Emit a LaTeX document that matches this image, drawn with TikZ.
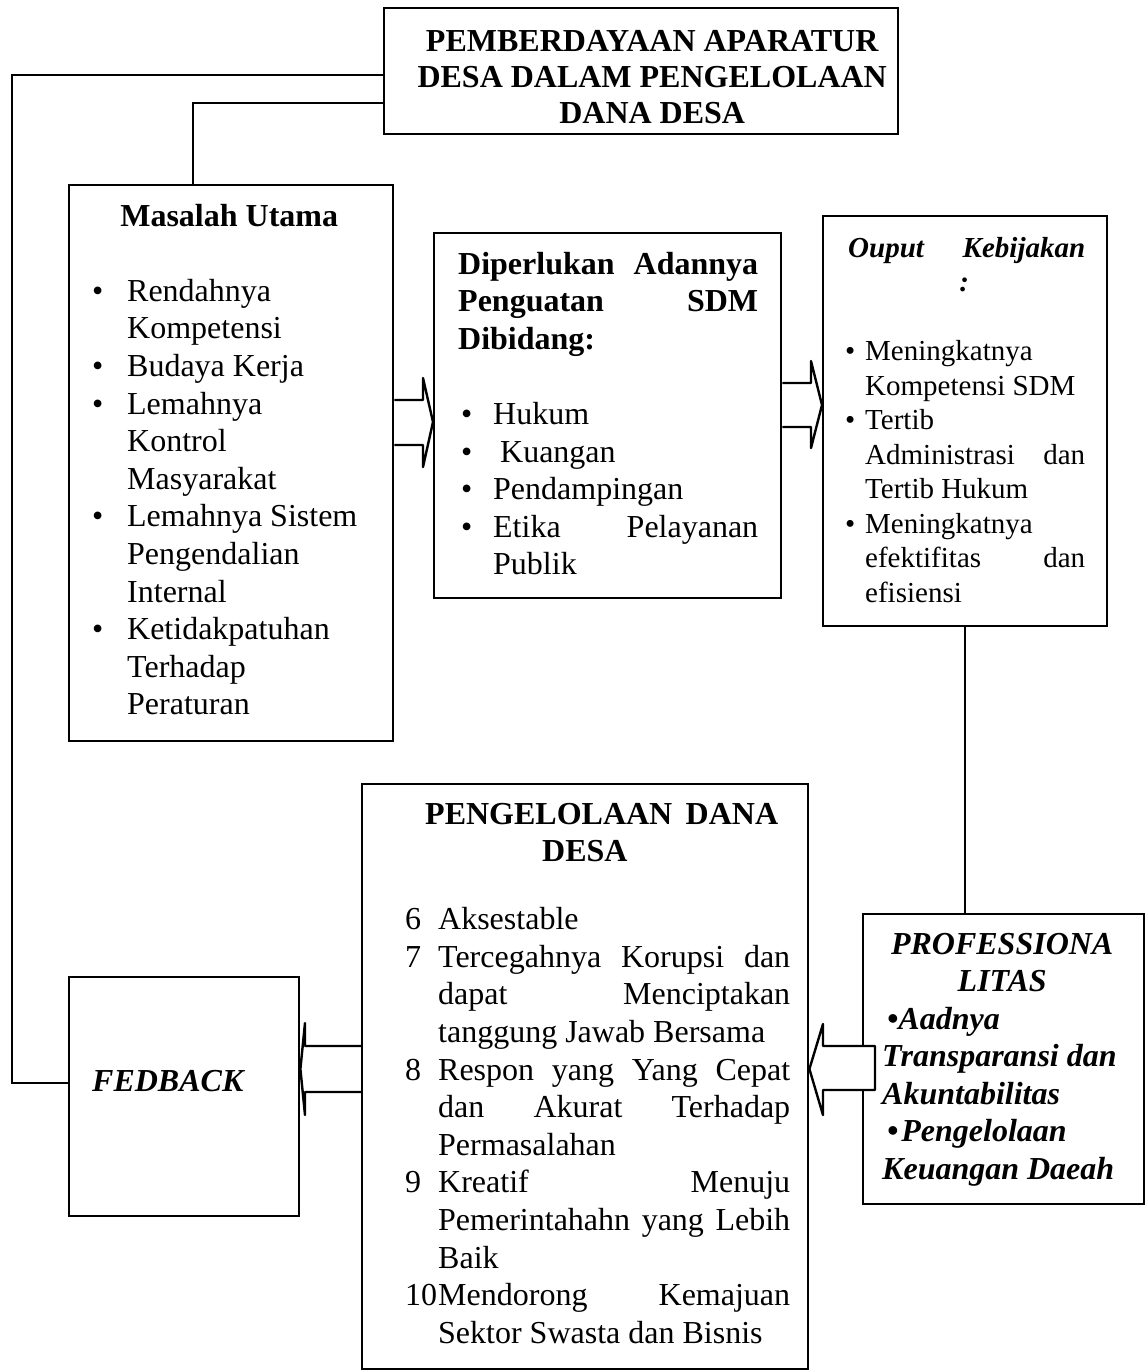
\documentclass[tikz,border=0pt]{standalone}
\usepackage{fontspec}
\setmainfont{Liberation Serif}
\usetikzlibrary{calc}

\newcommand{\titik}[1]{\makebox[#1][l]{\textbullet}}
\newcommand{\tengah}[1]{\hspace*{\fill}#1\hspace*{\fill}\null}
\newcommand{\kolom}[2]{\parbox[t]{#1}{\raggedright #2}}

\begin{document}
\begin{tikzpicture}[x=1pt, y=-1pt,
	kotak/.style={draw, line width=2.4pt, inner sep=0pt, anchor=north west},
	teks/.style={inner sep=0pt, anchor=base west, font=\fontsize{32}{37.6}\selectfont},
	garis/.style={line width=2.4pt},
	panah/.style={draw, line width=2.4pt, line join=round}]
\useasboundingbox (0,0) rectangle (1148,1371);
		\node[kotak, minimum width=514, minimum height=126] (judul) at (383,7) {};
		\node[kotak, minimum width=324, minimum height=556] (masalah) at (68,184) {};
		\node[kotak, minimum width=347, minimum height=365] (perlu) at (433,232) {};
		\node[kotak, minimum width=284, minimum height=410] (hasil) at (822,215) {};
		\node[kotak, minimum width=446, minimum height=585] (kelola) at (361,783) {};
		\node[kotak, minimum width=230, minimum height=239] (fedback) at (68,976) {};
		\node[kotak, minimum width=281, minimum height=290] (prof) at (862,913) {};

		\node[teks, font=\fontsize{32}{36}\selectfont\bfseries] (judultxt) at (412,51)
			{\parbox[t]{480pt}{\centering PEMBERDAYAAN APARATUR\\DESA DALAM PENGELOLAAN\\DANA DESA}};
		\node[teks] (masalahtxt) at (92,226)
			{\kolom{274pt}{{\centering\bfseries Masalah Utama\\[37.6pt]}
			\titik{35pt}Rendahnya\\ \hspace*{35pt}Kompetensi\\
			\titik{35pt}Budaya Kerja\\
			\titik{35pt}Lemahnya\\ \hspace*{35pt}Kontrol\\ \hspace*{35pt}Masyarakat\\
			\titik{35pt}Lemahnya Sistem\\ \hspace*{35pt}Pengendalian\\ \hspace*{35pt}Internal\\
			\titik{35pt}Ketidakpatuhan\\ \hspace*{35pt}Terhadap\\ \hspace*{35pt}Peraturan}};
		\node[teks] (perlutxt) at (458,274)
			{\kolom{300pt}{\bfseries Diperlukan\hfill Adannya\\ Penguatan\hfill SDM\\ Dibidang:\\[37.6pt]
			\mdseries\hspace*{3pt}\titik{32pt}Hukum\\
			\hspace*{3pt}\titik{32pt}\hspace*{7pt}Kuangan\\
			\hspace*{3pt}\titik{32pt}Pendampingan\\
			\hspace*{3pt}\titik{32pt}Etika\hfill Pelayanan\\ \hspace*{35pt}Publik}};
		\node[teks, font=\fontsize{29}{34.5}\selectfont] (hasiltxt) at (843,257)
			{\kolom{242pt}{\bfseries\itshape\hspace*{5pt}Ouput\hfill Kebijakan\\ \tengah{:}\\[34.5pt]
			\mdseries\upshape\hspace*{2pt}\titik{20pt}Meningkatnya\\ \hspace*{22pt}Kompetensi SDM\\
			\hspace*{2pt}\titik{20pt}Tertib\\ \hspace*{22pt}Administrasi\hfill dan\\ \hspace*{22pt}Tertib Hukum\\
			\hspace*{2pt}\titik{20pt}Meningkatnya\\ \hspace*{22pt}efektifitas\hfill dan\\ \hspace*{22pt}efisiensi}};
		\node[teks] (kelolatxt) at (405,824)
			{\kolom{385pt}{\bfseries\hspace*{20pt}PENGELOLAAN\hfill DANA\hspace*{12pt}\null\\ \hspace*{137pt}DESA\\[30.4pt]
			\mdseries\makebox[33pt][l]{6}Aksestable\\
			\makebox[33pt][l]{7}Tercegahnya\hfill Korupsi\hfill dan\\ \hspace*{33pt}dapat\hfill Menciptakan\\ \hspace*{33pt}tanggung Jawab Bersama\\
			\makebox[33pt][l]{8}Respon\hfill yang\hfill Yang\hfill Cepat\\ \hspace*{33pt}dan\hfill Akurat\hfill Terhadap\\ \hspace*{33pt}Permasalahan\\
			\makebox[33pt][l]{9}Kreatif\hfill Menuju\\ \hspace*{33pt}Pemerintahahn\hfill yang\hfill Lebih\\ \hspace*{33pt}Baik\\
			\makebox[33pt][l]{10}Mendorong\hfill Kemajuan\\ \hspace*{33pt}Sektor Swasta dan Bisnis}};
		\node[teks, font=\fontsize{32}{37.5}\selectfont\bfseries\itshape] (proftxt) at (882,954)
			{\kolom{240pt}{\tengah{PROFESSIONA}\\ \tengah{LITAS}\\
			\hspace*{5pt}\textbullet Aadnya\\ Transparansi dan\\ Akuntabilitas\\
			\hspace*{5pt}\textbullet\hspace{3pt}Pengelolaan\\ Keuangan Daeah}};
		\node[teks, font=\fontsize{32}{37.6}\selectfont\bfseries\itshape] (fedtxt) at (92,1091) {FEDBACK};

		\draw[garis] (judul.west |- 0,75) -- (12,75) |- (fedback.west |- 0,1083);
		\draw[garis] (judul.west |- 0,103) -| (193,0 |- masalah.north);
		\draw[garis] (hasil.south) -- (hasil.south |- prof.north);

		\draw[panah] (masalah.east |- 0,400) -- (423,400) -- (423,378) -- (perlu.west |- 0,422) -- (423,467) -- (423,445) -- (masalah.east |- 0,445);
		\draw[panah] (perlu.east |- 0,383) -- (811,383) -- (811,361) -- (hasil.west |- 0,405) -- (811,448) -- (811,427) -- (perlu.east |- 0,427);
		\draw[panah] (kelola.west |- 0,1046) -- (305,1046) -- (305,1023) -- (fedback.east |- 0,1069) -- (305,1115) -- (305,1092) -- (kelola.west |- 0,1092);
		\draw[panah, fill=white] ($(prof.west |- 0,1046)+(13,0)$) -- (823,1046) -- (823,1024) -- (kelola.east |- 0,1069) -- (823,1115) -- (823,1090) -- ($(prof.west |- 0,1090)+(13,0)$) -- cycle;
\end{tikzpicture}
\end{document}
